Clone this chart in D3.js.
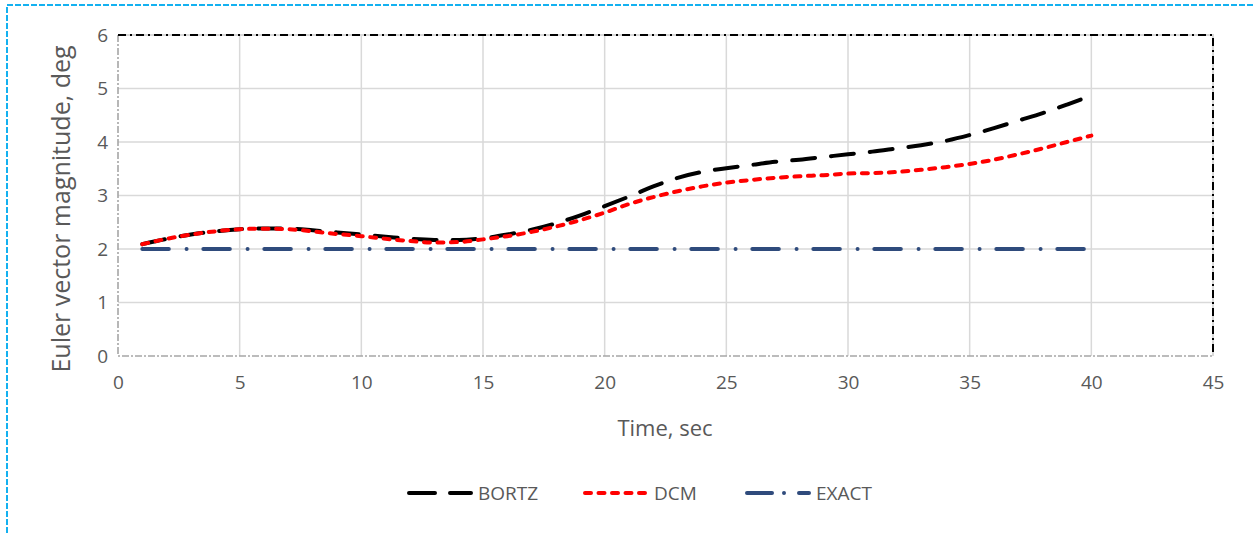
<!DOCTYPE html>
<html><head><meta charset="utf-8">
<script src="https://cdn.jsdelivr.net/npm/d3@7"></script>
<style>body{margin:0;background:#fff}svg{display:block}text{font-family:"Open Sans",sans-serif}</style>
</head><body>
<svg id="c" width="1253" height="533"></svg>
<script>
const time = d3.range(1, 41);
const bortz = [2.09,2.19,2.27,2.33,2.37,2.385,2.38,2.35,2.31,2.27,2.23,2.19,2.17,2.17,2.20,2.27,2.36,2.48,2.63,2.80,2.98,3.17,3.33,3.44,3.51,3.57,3.63,3.67,3.72,3.77,3.82,3.88,3.94,4.02,4.13,4.26,4.40,4.54,4.70,4.87];
const dcm = [2.09,2.19,2.27,2.33,2.37,2.38,2.37,2.33,2.28,2.24,2.19,2.15,2.12,2.13,2.18,2.24,2.32,2.42,2.54,2.68,2.84,2.97,3.08,3.17,3.24,3.29,3.33,3.36,3.38,3.41,3.42,3.44,3.48,3.53,3.59,3.67,3.77,3.88,4.00,4.12];
const exact = [2,2,2,2,2,2,2,2,2,2,2,2,2,2,2,2,2,2,2,2,2,2,2,2,2,2,2,2,2,2,2,2,2,2,2,2,2,2,2,2];
const xTicks = [0,5,10,15,20,25,30,35,40,45];
const yTicks = [0,1,2,3,4,5,6];
const seriesNames = ["BORTZ","DCM","EXACT"];

const svg = d3.select("#c");
const L=118,R=1213,T=35,B=356;
const x = d3.scaleLinear().domain([0,45]).range([L,R]);
const y = d3.scaleLinear().domain([0,6]).range([B,T]);

svg.append("rect").attr("x",7).attr("y",5).attr("width",1260).attr("height",540)
  .attr("fill","none").attr("stroke","#14b1f0").attr("stroke-width",2).attr("stroke-dasharray","6 2");

svg.append("g").selectAll("line").data(xTicks.slice(1,-1)).join("line")
  .attr("x1",d=>x(d)).attr("x2",d=>x(d)).attr("y1",T).attr("y2",B)
  .attr("stroke","#d9d9d9").attr("stroke-width",1.5);
svg.append("g").selectAll("line").data(yTicks.slice(1,-1)).join("line")
  .attr("x1",L).attr("x2",R).attr("y1",d=>y(d)).attr("y2",d=>y(d))
  .attr("stroke","#d9d9d9").attr("stroke-width",1.5);

svg.append("path").attr("d",`M${L},${T}V${B}H${R}`).attr("fill","none")
  .attr("stroke","#a6a6a6").attr("stroke-width",1.6).attr("stroke-dasharray","7 2 2 2");
svg.append("path").attr("d",`M${L},${T}H${R}V${B}`).attr("fill","none")
  .attr("stroke","#d9d9d9").attr("stroke-width",2);
svg.append("path").attr("d",`M${L},${T}H${R}V${B}`).attr("fill","none")
  .attr("stroke","#000").attr("stroke-width",2).attr("stroke-dasharray","8 4 2 4");

const xAxis = d3.axisBottom(x).tickValues(xTicks).tickSize(0).tickPadding(20).tickFormat(d3.format("d"));
const gx = svg.append("g").attr("transform",`translate(0,${B})`).call(xAxis);
const yAxis = d3.axisLeft(y).tickValues(yTicks).tickSize(0).tickPadding(10).tickFormat(d3.format("d"));
const gy = svg.append("g").attr("transform",`translate(${L},0)`).call(yAxis);
[gx,gy].forEach(g=>{g.select(".domain").remove();
  g.selectAll("text").attr("fill","#595959").style("font-size","19px").style("font-family","'Open Sans',sans-serif");});

svg.append("text").attr("x",665).attr("y",436).attr("text-anchor","middle")
  .attr("fill","#595959").style("font-size","22px").text("Time, sec");
svg.append("text").attr("transform","translate(70,209) rotate(-90)").attr("text-anchor","middle")
  .attr("fill","#595959").style("font-size","25px").text("Euler vector magnitude, deg");

const styles = [
  {data:bortz,color:"#000000",dash:"23 16",w:4},
  {data:dcm,color:"#ff0000",dash:"6 7.5",w:4},
  {data:exact,color:"#2f4b7c",dash:"26.5 17.75 0 16.75",w:4}
];
const line = d3.line().x((d,i)=>x(time[i])).y(d=>y(d)).curve(d3.curveMonotoneX);
[2,0,1].forEach(k=>{
  const s=styles[k];
  svg.append("path").datum(s.data).attr("d",line).attr("fill","none")
    .attr("stroke",s.color).attr("stroke-width",s.w).attr("stroke-linecap","round")
    .attr("stroke-dasharray",s.dash);
});

const legX=[407,583,745];
const lg = svg.append("g");
seriesNames.forEach((n,i)=>{
  lg.append("line").attr("x1",legX[i]+2).attr("x2",legX[i]+64).attr("y1",493).attr("y2",493)
    .attr("stroke",styles[i].color).attr("stroke-width",4).attr("stroke-linecap","round")
    .attr("stroke-dasharray",i===0?"26 15":i===1?"6 7.5":"25 12 0 15");
  lg.append("text").attr("x",legX[i]+71).attr("y",500).attr("fill","#595959")
    .style("font-size","19px").text(n);
});
</script>
</body></html>
